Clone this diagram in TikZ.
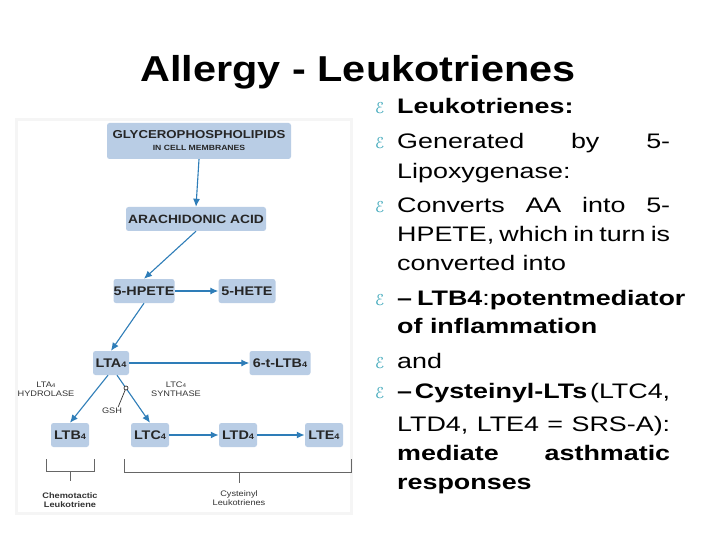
\documentclass[tikz,border=0pt]{standalone}
\usepackage{fontspec}
\setmainfont[FakeStretch=1.15]{Liberation Sans}
\newfontfamily\wide[FakeStretch=1.28]{Liberation Sans}
\newfontfamily\dejavu{DejaVu Sans}
\usetikzlibrary{arrows.meta}
\definecolor{boxfill}{HTML}{B9CDE5}
\definecolor{arr}{HTML}{2E7DB8}
\definecolor{bul}{HTML}{3AA6B9}
\tikzset{
  bx/.style={fill=boxfill,rounded corners=2.5pt,font=\bfseries\fontsize{12.5}{13}\selectfont,text=black!85,inner sep=0pt,minimum height=24pt},
  ar/.style={draw=arr,line width=1.1pt,-{Latex[length=8pt,width=7pt]}},
  lab/.style={font=\fontsize{8}{9}\selectfont,align=center,text=black!80,inner sep=0pt},
  ln/.style={anchor=base west,inner sep=0pt,font=\wide\fontsize{21}{24}\selectfont},
  bt/.style={anchor=base west,inner sep=0pt,text=bul,font=\dejavu\fontsize{15}{16}\selectfont},
  br/.style={draw=black!60,line width=0.7pt}
}
\newcommand{\subf}{{\fontsize{8}{8}\selectfont 4}}
\newcommand{\jl}[1]{\makebox[273pt][s]{#1}}
\begin{document}
\begin{tikzpicture}[x=1pt,y=-1pt]
\useasboundingbox (0,0) rectangle (720,540);
\fill[white] (0,0) rectangle (720,540);
\fill[black!4] (15,118) rectangle (353,515);
\fill[white] (18,121) rectangle (350,512);
\node[font=\bfseries\fontsize{36}{40}\selectfont,inner sep=0pt] (title) at (358,72) {Allergy - Leukotrienes};
% diagram
\node[bx,minimum width=184pt,minimum height=36pt,align=center] (gly) at (199,141) {\fontsize{11.5}{12}\selectfont GLYCEROPHOSPHOLIPIDS\\[-1pt]\fontsize{7.5}{8}\selectfont IN CELL MEMBRANES};
\node[bx,minimum width=140pt] (aa) at (196,219) {\fontsize{12}{13}\selectfont ARACHIDONIC ACID};
\node[bx,minimum width=61pt] (hpete) at (144,291) {5-HPETE};
\node[bx,minimum width=57pt] (hete) at (247,291) {5-HETE};
\node[bx,minimum width=36pt] (lta) at (111,363) {LTA\subf};
\node[bx,minimum width=61pt] (tltb) at (280,363) {6-t-LTB\subf};
\node[bx,minimum width=38pt] (ltb) at (70,435) {LTB\subf};
\node[bx,minimum width=38pt] (ltc) at (150,435) {LTC\subf};
\node[bx,minimum width=38pt] (ltd) at (238,435) {LTD\subf};
\node[bx,minimum width=38pt] (lte) at (324,435) {LTE\subf};
\node[lab] (hyd) at (46,389) {LTA{\fontsize{5.5}{5}\selectfont 4}\\HYDROLASE};
\node[lab] (syn) at (176,389) {LTC{\fontsize{5.5}{5}\selectfont 4}\\SYNTHASE};
\node[lab] (gsh) at (112,411) {GSH};
\draw[ar] (gly.south) -- (aa.north);
\draw[ar] (aa.south) -- (hpete.north);
\draw[ar] (hpete.east) -- (hete.west);
\draw[ar] (hpete.south) -- (lta.north);
\draw[ar] (lta.east) -- (tltb.west);
\draw[ar] (lta.south) ++(-3,0) -- (ltb.north);
\draw[ar] (lta.south) ++(6,0) coordinate (s) -- (ltc.north);
\coordinate (ring) at (126,388);
\draw[black!80,line width=0.7pt] (gsh.north east) ++(-4,-1) -- (ring);
\draw[black!80,line width=0.7pt,fill=white] (ring) circle (2pt);
\draw[ar,line width=1.6pt] (ltc.east) -- (ltd.west);
\draw[ar,line width=1.6pt] (ltd.east) -- (lte.west);
\coordinate (b1) at (46,459); \coordinate (b2) at (94,459);
\draw[br] (b1) -- ++(0,12) -| (b2);
\draw[br] (70,471) -- (70,481);
\coordinate (b3) at (124,459); \coordinate (b4) at (351,459);
\draw[br] (b3) -- ++(0,13) -| (b4);
\draw[br] (239,472) -- (239,483);
\node[lab,font=\bfseries\fontsize{8}{9.5}\selectfont] (chem) at (70,500) {Chemotactic\\Leukotriene};
\node[lab,font=\fontsize{8}{9.5}\selectfont] (cys) at (239,498) {Cysteinyl\\Leukotrienes};
% text
\foreach \yy in {114,149,212,305,368,398} \node[bt] at (375,\yy) {ℰ};
\node[ln] (l1) at (397,114) {\textbf{Leukotrienes:}};
\node[ln] (l2) at (397,149) {\jl{Generated\hfill by\hfill 5-}};
\node[ln] (l3) at (397,179) {Lipoxygenase:};
\node[ln] (l4) at (397,212) {\jl{Converts\hfill AA\hfill into\hfill 5-}};
\node[ln] (l5) at (397,241) {\jl{HPETE,\hfill which\hfill in\hfill turn\hfill is}};
\node[ln] (l6) at (397,270) {converted into};
\node[ln] (l7) at (397,305) {\jl{\textbf{– LTB4}:\hfill \textbf{potent}\hfill \textbf{mediator}}};
\node[ln] (l8) at (397,333) {\textbf{of inflammation}};
\node[ln] (l9) at (397,368) {and};
\node[ln] (l10) at (397,398) {\jl{\textbf{–}\hfill \textbf{Cysteinyl-LTs}\hfill (LTC4,}};
\node[ln] (l11) at (397,431) {\jl{LTD4,\hfill LTE4\hfill =\hfill SRS-A):}};
\node[ln] (l12) at (397,460) {\jl{\textbf{mediate}\hfill \textbf{asthmatic}}};
\node[ln] (l13) at (397,489) {\textbf{responses}};
\end{tikzpicture}
\end{document}
